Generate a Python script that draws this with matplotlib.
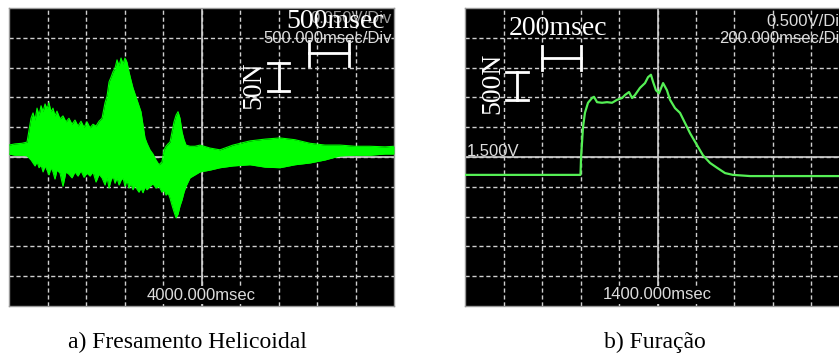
'''Forças de usinagem - telas do osciloscópio'''
# a) fresamento helicoidal   b) furação
import numpy as np
import matplotlib
matplotlib.use('Agg')
import matplotlib.pyplot as plt

# dados ======================================================================
# a) fresamento helicoidal: envelope superior / inferior do sinal (N) x tempo (msec)
tempo_a = [1500, 1578, 1669, 1734, 1786, 1812, 1838, 1864, 1890, 1916, 1942, 1968,
           1994, 2019, 2045, 2071, 2097, 2123, 2162, 2201, 2240, 2279, 2318, 2357,
           2396, 2435, 2474, 2513, 2552, 2591, 2630, 2669, 2708, 2747, 2773, 2799,
           2825, 2851, 2877, 2903, 2929, 2955, 2981, 3006, 3032, 3058, 3084, 3110,
           3136, 3162, 3188, 3214, 3240, 3266, 3292, 3331, 3370, 3409, 3448, 3487,
           3513, 3539, 3565, 3591, 3617, 3643, 3669, 3695, 3721, 3747, 3773, 3799,
           3851, 3916, 3981, 4110, 4240, 4409, 4630, 4825, 5019, 5214, 5409, 5604,
           5799, 5994, 6188, 6383, 6500]
sup_a = [20, 22, 23, 25, 65, 74, 62, 82, 70, 86, 76, 89,
         81, 91, 76, 82, 69, 77, 64, 69, 59, 65, 55, 62,
         52, 60, 50, 59, 49, 55, 52, 60, 65, 91, 102, 126,
         134, 143, 149, 163, 153, 166, 156, 166, 159, 143, 129, 116,
         106, 96, 86, 76, 54, 32, 23, 12, 5, -5, -13, -8,
         12, 18, 22, 25, 42, 59, 70, 76, 65, 42, 29, 20,
         18, 18, 20, 15, 12, 20, 27, 30, 32, 29, 23, 20,
         20, 18, 18, 17, 18]
inf_a = [5, 3, 3, 2, -5, -10, -15, -8, -18, -13, -25, -15,
         -22, -30, -18, -25, -37, -22, -27, -49, -25, -29, -35, -25,
         -32, -23, -34, -27, -32, -25, -42, -29, -35, -47, -34, -52,
         -39, -32, -44, -35, -47, -39, -35, -49, -39, -52, -44, -55,
         -47, -54, -59, -52, -60, -50, -55, -49, -45, -52, -49, -59,
         -55, -64, -60, -69, -81, -92, -102, -96, -82, -72, -59, -49,
         -35, -30, -25, -22, -18, -15, -13, -17, -18, -13, -10, -5,
         2, 3, 3, 5, 5]

# b) furação: tensão (V) x tempo (msec)
tempo_b = [400, 1000, 1003, 1013, 1023, 1039, 1060, 1070, 1086, 1112, 1138, 1164,
           1190, 1216, 1231, 1252, 1268, 1283, 1309, 1335, 1351, 1366, 1377, 1392,
           1408, 1429, 1449, 1465, 1491, 1517, 1543, 1569, 1605, 1636, 1673, 1709,
           1751, 1792, 1881, 2400]
tensao_b = [1.20, 1.20, 1.50, 2.00, 2.24, 2.41, 2.49, 2.51, 2.42, 2.41, 2.42, 2.41,
            2.46, 2.49, 2.54, 2.59, 2.49, 2.54, 2.66, 2.74, 2.84, 2.88, 2.76, 2.62,
            2.57, 2.74, 2.62, 2.46, 2.32, 2.24, 2.07, 1.90, 1.70, 1.53, 1.40, 1.32,
            1.23, 1.20, 1.18, 1.18]

legendas = ['a) Fresamento Helicoidal', 'b) Furação']

# figura =====================================================================
W, H = 839, 358
fig = plt.figure(figsize=(W / 100, H / 100), dpi=100)
fig.patch.set_facecolor('white')

cor_grade = '#cfcfcf'
cor_texto = '#dcdcdc'
sans = 'Liberation Sans'
serif = 'Liberation Serif'


def tela(x0, x1, xlim, ylim, xdiv, ydiv):
    # eixo preto com grade 10x10 tracejada e linhas centrais contínuas
    ax = fig.add_axes([x0 / W, (H - 306) / H, (x1 - x0) / W, 298 / H])
    ax.set_facecolor('black')
    ax.set_xlim(xlim)
    ax.set_ylim(ylim)
    ax.set_xticks(np.arange(xlim[0] + xdiv, xlim[1] - xdiv / 2, xdiv))
    ax.set_yticks(np.arange(ylim[0] + ydiv, ylim[1] - ydiv / 2, ydiv))
    ax.grid(True, color=cor_grade, lw=1.0, linestyle=(0, (3, 2)))
    ax.set_axisbelow(True)
    ax.axvline((xlim[0] + xlim[1]) / 2, color=cor_grade, lw=1.2, zorder=1)
    ax.axhline((ylim[0] + ylim[1]) / 2, color=cor_grade, lw=1.2, zorder=1)
    ax.tick_params(length=0, labelbottom=False, labelleft=False)
    for s in ax.spines.values():
        s.set_color('#999999')
        s.set_linewidth(1)
    return ax


def barra_h(ax, xa, xb, y, h):
    ax.plot([xa, xb], [y, y], color='white', lw=2, zorder=5)
    ax.plot([xa, xa], [y - h, y + h], color='white', lw=2, zorder=5)
    ax.plot([xb, xb], [y - h, y + h], color='white', lw=2, zorder=5)


def barra_v(ax, x, ya, yb, w):
    ax.plot([x, x], [ya, yb], color='white', lw=2, zorder=5)
    ax.plot([x - w, x + w], [ya, ya], color='white', lw=2, zorder=5)
    ax.plot([x - w, x + w], [yb, yb], color='white', lw=2, zorder=5)


# a) fresamento helicoidal ---------------------------------------------------
ax1 = tela(9, 394, (1500, 6500), (-250, 250), 500, 50)
ax1.fill_between(tempo_a, sup_a, inf_a, color='#00ff00', lw=0, zorder=3)
ax1.plot(tempo_a, sup_a, color='#00ff00', lw=0.8, zorder=3)
ax1.plot(tempo_a, inf_a, color='#00ff00', lw=0.8, zorder=3)

ax1.text(6474, 233, '0.050V/Div', color='#9a9a9a', fontsize=12, family=sans,
         ha='right', va='center', zorder=4)
ax1.text(5747, 228, '500msec', color='white', fontsize=20, family=serif,
         ha='center', va='center', zorder=6)
ax1.text(6474, 198, '500.000msec/Div', color=cor_texto, fontsize=12, family=sans,
         ha='right', va='center', zorder=6)
barra_h(ax1, 5400, 5920, 174, 21)
barra_v(ax1, 5000, 110, 158, 130)
ax1.text(4682, 121, '50N', color='white', fontsize=20, family=serif,
         rotation=90, ha='center', va='center', zorder=6)
ax1.text(4000, -232, '4000.000msec', color=cor_texto, fontsize=12, family=sans,
         ha='center', va='center', zorder=6,
         bbox=dict(facecolor='black', edgecolor='none', pad=1))

# b) furação -----------------------------------------------------------------
ax2 = tela(465, 850, (400, 2400), (-1.0, 4.0), 200, 0.5)
ax2.plot(tempo_b, tensao_b, color='#55f055', lw=1.6, zorder=3)

ax2.text(2390, 3.78, '0.500V/Div', color=cor_texto, fontsize=12, family=sans,
         ha='right', va='center', zorder=6)
ax2.text(2390, 3.48, '200.000msec/Div', color=cor_texto, fontsize=12, family=sans,
         ha='right', va='center', zorder=6)
ax2.text(883, 3.66, '200msec', color='white', fontsize=20, family=serif,
         ha='center', va='center', zorder=6)
barra_h(ax2, 800, 1000, 3.16, 0.2)
barra_v(ax2, 670, 2.46, 2.93, 55)
ax2.text(545, 2.74, '500N', color='white', fontsize=20, family=serif,
         rotation=90, ha='center', va='center', zorder=6)
ax2.text(410, 1.60, '1.500V', color=cor_texto, fontsize=12, family=sans,
         ha='left', va='center', zorder=6)
ax2.text(1400, -0.815, '1400.000msec', color=cor_texto, fontsize=12, family=sans,
         ha='center', va='center', zorder=6,
         bbox=dict(facecolor='black', edgecolor='none', pad=1))

# legendas -------------------------------------------------------------------
fig.text(187 / W, 1 - 342 / H, legendas[0], fontsize=17, family=serif,
         ha='center', va='center')
fig.text(655 / W, 1 - 342 / H, legendas[1], fontsize=17, family=serif,
         ha='center', va='center')

fig.savefig('out.png', dpi=100)
